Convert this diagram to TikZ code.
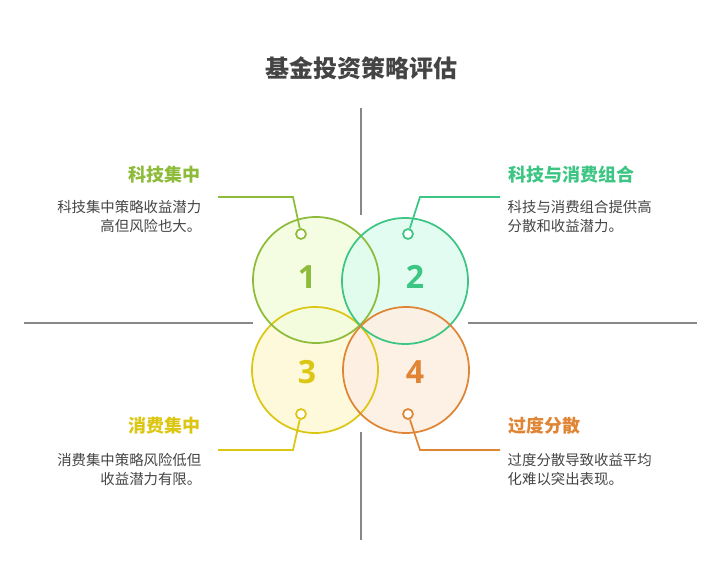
\documentclass[tikz,border=0pt]{standalone}
\usepackage{fontspec}
\setmainfont{Noto Sans CJK SC}
\newfontfamily\numf{Open Sans}
\definecolor{cA}{HTML}{8DBB3A}\definecolor{fA}{HTML}{F3FDDF}
\definecolor{cB}{HTML}{3CC583}\definecolor{fB}{HTML}{E0FCEF}
\definecolor{cC}{HTML}{DCC614}\definecolor{fC}{HTML}{FEF9DA}
\definecolor{cD}{HTML}{DF8534}\definecolor{fD}{HTML}{FDEFE3}
\definecolor{axisg}{HTML}{888888}
\definecolor{txt}{HTML}{444444}
\begin{document}
\begin{tikzpicture}[x=0.75pt,y=-0.75pt,
  bub/.style={circle,minimum size=126*0.75pt,inner sep=0pt,line width=1.3pt},
  pin/.style={circle,minimum size=10*0.75pt,inner sep=0pt,line width=1.3pt,fill=white},
  num/.style={font=\numf\bfseries\fontsize{24}{24}\selectfont},
  head/.style={font=\bfseries\fontsize{13.5}{16}\selectfont},
  desc/.style={font=\fontsize{10.8}{14.3}\selectfont,text=txt},
  ax/.style={axisg,line width=1.1pt},
  lead/.style={line width=1.3pt}]
\useasboundingbox (0,0) rectangle (721,588);
\node[font=\bfseries\fontsize{18}{20}\selectfont,text=txt] (title) at (361,68) {基金投资策略评估};
\coordinate (v1) at (361,108);\coordinate (v2) at (361,215);
\coordinate (v3) at (361,432);\coordinate (v4) at (361,540);
\coordinate (h1) at (24,323);\coordinate (h2) at (253,323);
\coordinate (h3) at (468,323);\coordinate (h4) at (697,323);
\draw[ax] (v1)--(v2); \draw[ax] (v3)--(v4);
\draw[ax] (h1)--(h2); \draw[ax] (h3)--(h4);
% fills
\node[bub,fill=fC] (c3) at (315,370) {};
\node[bub,fill=fA,fill opacity=0.9] (c1) at (316,280) {};
\node[bub,fill=fB,fill opacity=0.9] (c2) at (405,281) {};
\node[bub,fill=fD,fill opacity=0.9] (c4) at (406,370) {};
\node[bub,draw=cC] at (c3) {};
\node[bub,draw=cA] at (c1) {};
\node[bub,draw=cB] at (c2) {};
\node[bub,draw=cD] at (c4) {};
\node[num,text=cA] (n1) at (307,277) {1};
\node[num,text=cB] (n2) at (415,277) {2};
\node[num,text=cC] (n3) at (307,372) {3};
\node[num,text=cD] (n4) at (415,372) {4};
% pins and leaders
\node[pin,draw=cA] (p1) at (301,234) {};
\node[pin,draw=cB] (p2) at (408,234) {};
\node[pin,draw=cC] (p3) at (301,414) {};
\node[pin,draw=cD] (p4) at (408,414) {};
\coordinate (k1) at (293,197);\coordinate (e1) at (218,197);
\coordinate (k2) at (420,197);\coordinate (e2) at (500,197);
\coordinate (k3) at (293,450);\coordinate (e3) at (218,450);
\coordinate (k4) at (420,450);\coordinate (e4) at (500,450);
\draw[lead,cA] (p1)--(k1)--(e1);
\draw[lead,cB] (p2)--(k2)--(e2);
\draw[lead,cC] (p3)--(k3)--(e3);
\draw[lead,cD] (p4)--(k4)--(e4);
% texts
\node[head,text=cA,anchor=east] (t1) at (205,175) {科技集中};
\node[desc,anchor=north east,align=right] (d1) at (206,196) {科技集中策略收益潜力\\高但风险也大。};
\node[head,text=cB,anchor=west] (t2) at (504,175) {科技与消费组合};
\node[desc,anchor=north west,align=left] (d2) at (503,196) {科技与消费组合提供高\\分散和收益潜力。};
\node[head,text=cC,anchor=east] (t3) at (205,426) {消费集中};
\node[desc,anchor=north east,align=right] (d3) at (206,449) {消费集中策略风险低但\\收益潜力有限。};
\node[head,text=cD,anchor=west] (t4) at (504,426) {过度分散};
\node[desc,anchor=north west,align=left] (d4) at (503,449) {过度分散导致收益平均\\化难以突出表现。};
\end{tikzpicture}
\end{document}
